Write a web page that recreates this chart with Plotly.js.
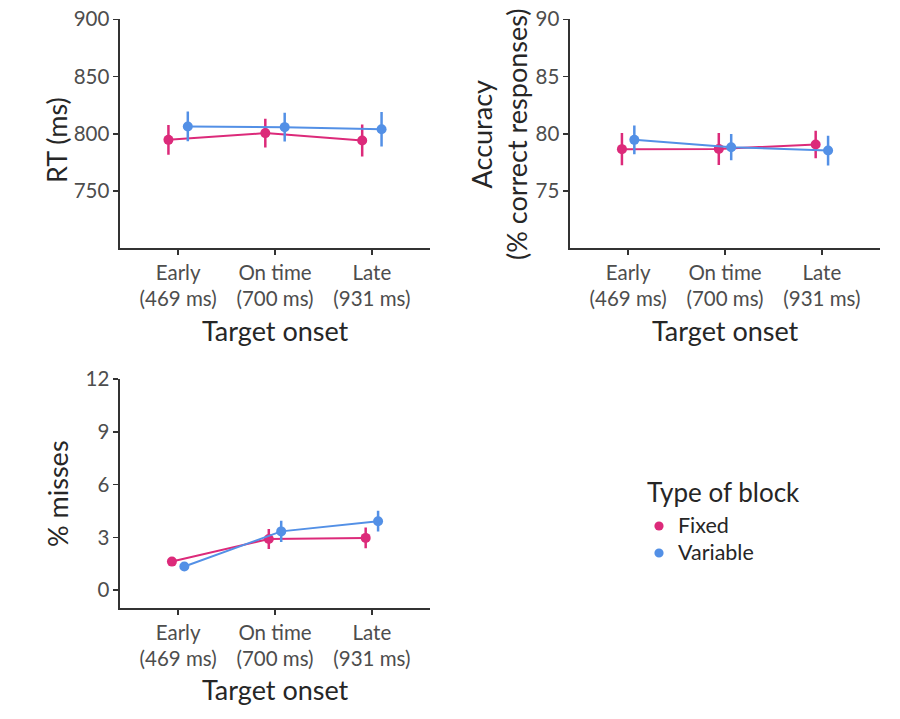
<!DOCTYPE html>
<html>
<head>
<meta charset="utf-8">
<script src="https://cdn.plot.ly/plotly-3.0.1.min.js"></script>
<style>html,body{margin:0;padding:0;background:#fff;}#chart{width:900px;height:719px;}</style>
</head>
<body>
<div id="chart"></div>
<script>
const categories = ['Early', 'On time', 'Late'];
const tickLabels = ['Early<br>(469 ms)', 'On time<br>(700 ms)', 'Late<br>(931 ms)'];
const groups = ['Fixed', 'Variable'];
const legendTitle = 'Type of block';

const rtFixed = [794.7, 800.6, 794.2];
const rtFixedErr = [13, 12.5, 14];
const rtVariable = [806.4, 805.8, 804.0];
const rtVariableErr = [13, 12.5, 15];

const accFixed = [78.66, 78.68, 79.07];
const accFixedErr = [1.4, 1.4, 1.2];
const accVariable = [79.47, 78.83, 78.54];
const accVariableErr = [1.25, 1.15, 1.3];

const missFixed = [1.62, 2.91, 2.97];
const missFixedErr = [0.12, 0.57, 0.59];
const missVariable = [1.34, 3.34, 3.92];
const missVariableErr = [0.08, 0.6, 0.59];

const colors = {Fixed: '#dc2a7a', Variable: '#5390e6'};
const FONT = 'Lato, "Source Sans Pro", "Open Sans", sans-serif';
const TITLE_COLOR = '#262626';

function trace(vals, errs, group, dodge, xa, ya) {
  const off = group === 'Fixed' ? -dodge : dodge;
  return {
    type: 'scatter', mode: 'lines+markers',
    x: categories.map((c, i) => i + 1 + off), y: vals,
    xaxis: xa, yaxis: ya, showlegend: false, name: group,
    line: {color: colors[group], width: 2},
    marker: {color: colors[group], size: 10},
    error_y: {type: 'data', array: errs, visible: true, color: colors[group], thickness: 2.5, width: 0}
  };
}

const data = [
  trace(rtFixed, rtFixedErr, 'Fixed', 0.1, 'x', 'y'),
  trace(rtVariable, rtVariableErr, 'Variable', 0.1, 'x', 'y'),
  trace(accFixed, accFixedErr, 'Fixed', 0.064, 'x2', 'y2'),
  trace(accVariable, accVariableErr, 'Variable', 0.064, 'x2', 'y2'),
  trace(missFixed, missFixedErr, 'Fixed', 0.064, 'x3', 'y3'),
  trace(missVariable, missVariableErr, 'Variable', 0.064, 'x3', 'y3')
];

const axLine = {showline: true, linecolor: '#333333', linewidth: 1.6, ticks: 'outside', ticklen: 5,
  tickwidth: 1.6, tickcolor: '#333333', showgrid: false, zeroline: false,
  tickfont: {family: FONT, size: 20.5, color: '#4d4d4d'}, fixedrange: true};

function xax(domain, anchor) {
  return Object.assign({}, axLine, {domain: domain, anchor: anchor, range: [0.4, 3.6],
    tickmode: 'array', tickvals: categories.map((c, i) => i + 1), ticktext: tickLabels});
}
function yax(domain, anchor, range, tickvals) {
  return Object.assign({}, axLine, {domain: domain, anchor: anchor, range: range,
    tickmode: 'array', tickvals: tickvals, ticktext: tickvals.map(String)});
}

const topDom = [1 - 248.3 / 719, 1 - 19.3 / 719];
const botDom = [1 - 608.3 / 719, 1 - 379.3 / 719];
const leftDom = [120 / 900, 430 / 900];
const rightDom = [570 / 900, 880 / 900];

function ann(text, xpx, ypx, angle, size, xanchor) {
  return {text: text, x: xpx / 900, y: 1 - ypx / 719, xref: 'paper', yref: 'paper',
    showarrow: false, textangle: angle, xanchor: xanchor || 'center', yanchor: 'middle',
    borderpad: 0, font: {family: FONT, size: size, color: TITLE_COLOR}};
}

const legendRows = [525, 552];
const annotations = [
  ann('RT (ms)', 57, 140, -90, 27),
  ann('Accuracy<br>(% correct responses)', 499, 134, -90, 27),
  ann('% misses', 57, 494, -90, 27),
  ann('Target onset', 275, 331, 0, 27),
  ann('Target onset', 725, 331, 0, 27),
  ann('Target onset', 275, 689, 0, 27),
  ann(legendTitle, 646, 492, 0, 26, 'left')
];
const shapes = [];
groups.forEach((g, i) => {
  annotations.push(ann(g, 677, legendRows[i], 0, 21.5, 'left'));
  const cx = 659 / 900, cy = 1 - (legendRows[i] + 1) / 719, rx = 4.6 / 900, ry = 4.6 / 719;
  shapes.push({type: 'circle', xref: 'paper', yref: 'paper', x0: cx - rx, x1: cx + rx,
    y0: cy - ry, y1: cy + ry, fillcolor: colors[g], line: {width: 0}});
});

const layout = {
  width: 900, height: 719,
  margin: {l: 0, r: 0, t: 0, b: 0},
  paper_bgcolor: '#ffffff', plot_bgcolor: '#ffffff',
  font: {family: FONT},
  xaxis: xax(leftDom, 'y'),
  yaxis: yax(topDom, 'x', [700, 900], [750, 800, 850, 900]),
  xaxis2: xax(rightDom, 'y2'),
  yaxis2: yax(topDom, 'x2', [70, 90], [75, 80, 85, 90]),
  xaxis3: xax(leftDom, 'y3'),
  yaxis3: yax(botDom, 'x3', [-1.04, 12], [0, 3, 6, 9, 12]),
  showlegend: false,
  annotations: annotations,
  shapes: shapes
};

Plotly.newPlot('chart', data, layout, {staticPlot: true, displayModeBar: false});
</script>
</body>
</html>
